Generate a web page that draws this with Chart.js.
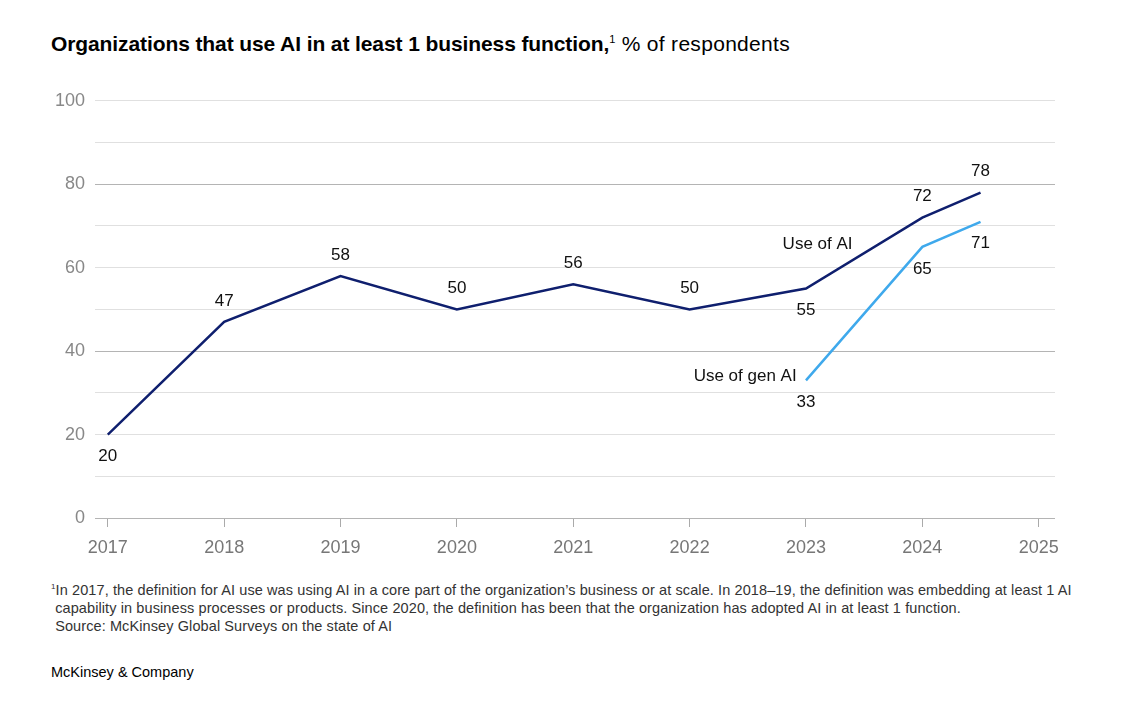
<!DOCTYPE html>
<html><head><meta charset="utf-8">
<script src="https://cdn.jsdelivr.net/npm/chart.js@4"></script>
<style>
body{margin:0;width:1130px;height:716px;background:#fff;font-family:"Liberation Sans",Arial,sans-serif;position:relative;overflow:hidden}
#title{position:absolute;left:51px;top:32px;font-size:21px;color:#000;letter-spacing:0.3px}
#title b{font-weight:bold;letter-spacing:-0.1px}
#title sup{font-size:11px}
#wrap{position:absolute;left:40px;top:80px;width:1030px;height:480px}
#note{position:absolute;left:51px;top:578px;font-size:14.5px;color:#333;line-height:18px;letter-spacing:0.1px}
#brand{position:absolute;left:51px;top:664px;font-size:14.5px;color:#000}
</style></head><body>
<div id="title"><b>Organizations that use AI in at least 1 business function,</b><sup>1</sup> % of respondents</div>
<div id="wrap"><canvas id="c"></canvas></div>
<div id="note"><sup style="font-size:8px">1</sup>In 2017, the definition for AI use was using AI in a core part of the organization’s business or at scale. In 2018–19, the definition was embedding at least 1 AI<br>&nbsp;capability in business processes or products. Since 2020, the definition has been that the organization has adopted AI in at least 1 function.<br>&nbsp;Source: McKinsey Global Surveys on the state of AI</div>
<div id="brand">McKinsey &amp; Company</div>
<script>
var aiYears = [2017, 2018, 2019, 2020, 2021, 2022, 2023, 2024, 2024.5];
var aiValues = [20, 47, 58, 50, 56, 50, 55, 72, 78];
var aiLabelPos = ['below','above','above','above','above','above','below','above','above'];
var genYears = [2023, 2024, 2024.5];
var genValues = [33, 65, 71];
var genLabelPos = ['below','below','below'];
var xTicks = [2017, 2018, 2019, 2020, 2021, 2022, 2023, 2024, 2025];
var yTickLabels = [0, 20, 40, 60, 80, 100];

function pts(xs, ys){ return xs.map(function(x,i){ return {x:x, y:ys[i]}; }); }

var labelPlugin = {
  id:'labels',
  afterDatasetsDraw: function(chart){
    var ctx = chart.ctx, xs = chart.scales.x, ys = chart.scales.y;
    ctx.save();
    ctx.font = '17px "Liberation Sans", Arial, sans-serif';
    ctx.fillStyle = '#111';
    ctx.textAlign = 'center';
    ctx.textBaseline = 'middle';
    [[aiYears, aiValues, aiLabelPos],[genYears, genValues, genLabelPos]].forEach(function(s){
      s[0].forEach(function(x,i){
        var px = xs.getPixelForValue(x), py = ys.getPixelForValue(s[1][i]);
        ctx.fillText(String(s[1][i]), px, py + (s[2][i]==='above' ? -21 : 22));
      });
    });
    ctx.textAlign = 'right';
    ctx.fillText('Use of AI', xs.getPixelForValue(2023.4), ys.getPixelForValue(65.5));
    ctx.fillText('Use of gen AI', xs.getPixelForValue(2022.92), ys.getPixelForValue(34));
    ctx.restore();
  }
};

new Chart(document.getElementById('c'), {
  type:'line',
  data:{datasets:[
    {label:'Use of AI', data:pts(aiYears, aiValues), borderColor:'#0f1f6e', borderWidth:2.5, pointRadius:0, tension:0},
    {label:'Use of gen AI', data:pts(genYears, genValues), borderColor:'#3fa9ec', borderWidth:2.5, pointRadius:0, tension:0}
  ]},
  options:{
    responsive:true, maintainAspectRatio:false, animation:false,
    layout:{padding:{top:10, right:15, bottom:0, left:0}},
    plugins:{legend:{display:false}, tooltip:{enabled:false}},
    scales:{
      x:{type:'linear', min:2016.89, max:2025.14,
        afterBuildTicks:function(s){ s.ticks = xTicks.map(function(v){return {value:v};}); },
        afterFit:function(s){ s.height = 42; },
        border:{display:false},
        grid:{drawOnChartArea:false, drawTicks:true, tickLength:9, color:'#aaa'},
        ticks:{color:'#777', font:{size:18, family:'"Liberation Sans", Arial, sans-serif'}, padding:10, callback:function(v){return String(v);}}
      },
      y:{min:0, max:100,
        afterBuildTicks:function(s){ var t=[]; for(var v=0; v<=100; v+=10) t.push({value:v}); s.ticks=t; },
        afterFit:function(s){ s.width = 55; },
        border:{display:false},
        grid:{drawTicks:false, lineWidth:1, color:function(c){ var v=c.tick.value; return (v===0||v===40||v===80)?'#b4b4b4':'#e0e0e0'; }},
        ticks:{color:'#888', padding:10, font:{size:18, family:'"Liberation Sans", Arial, sans-serif'},
          callback:function(v){ return yTickLabels.indexOf(v) >= 0 ? String(v) : ''; }}
      }
    }
  },
  plugins:[labelPlugin]
});
</script>
</body></html>
